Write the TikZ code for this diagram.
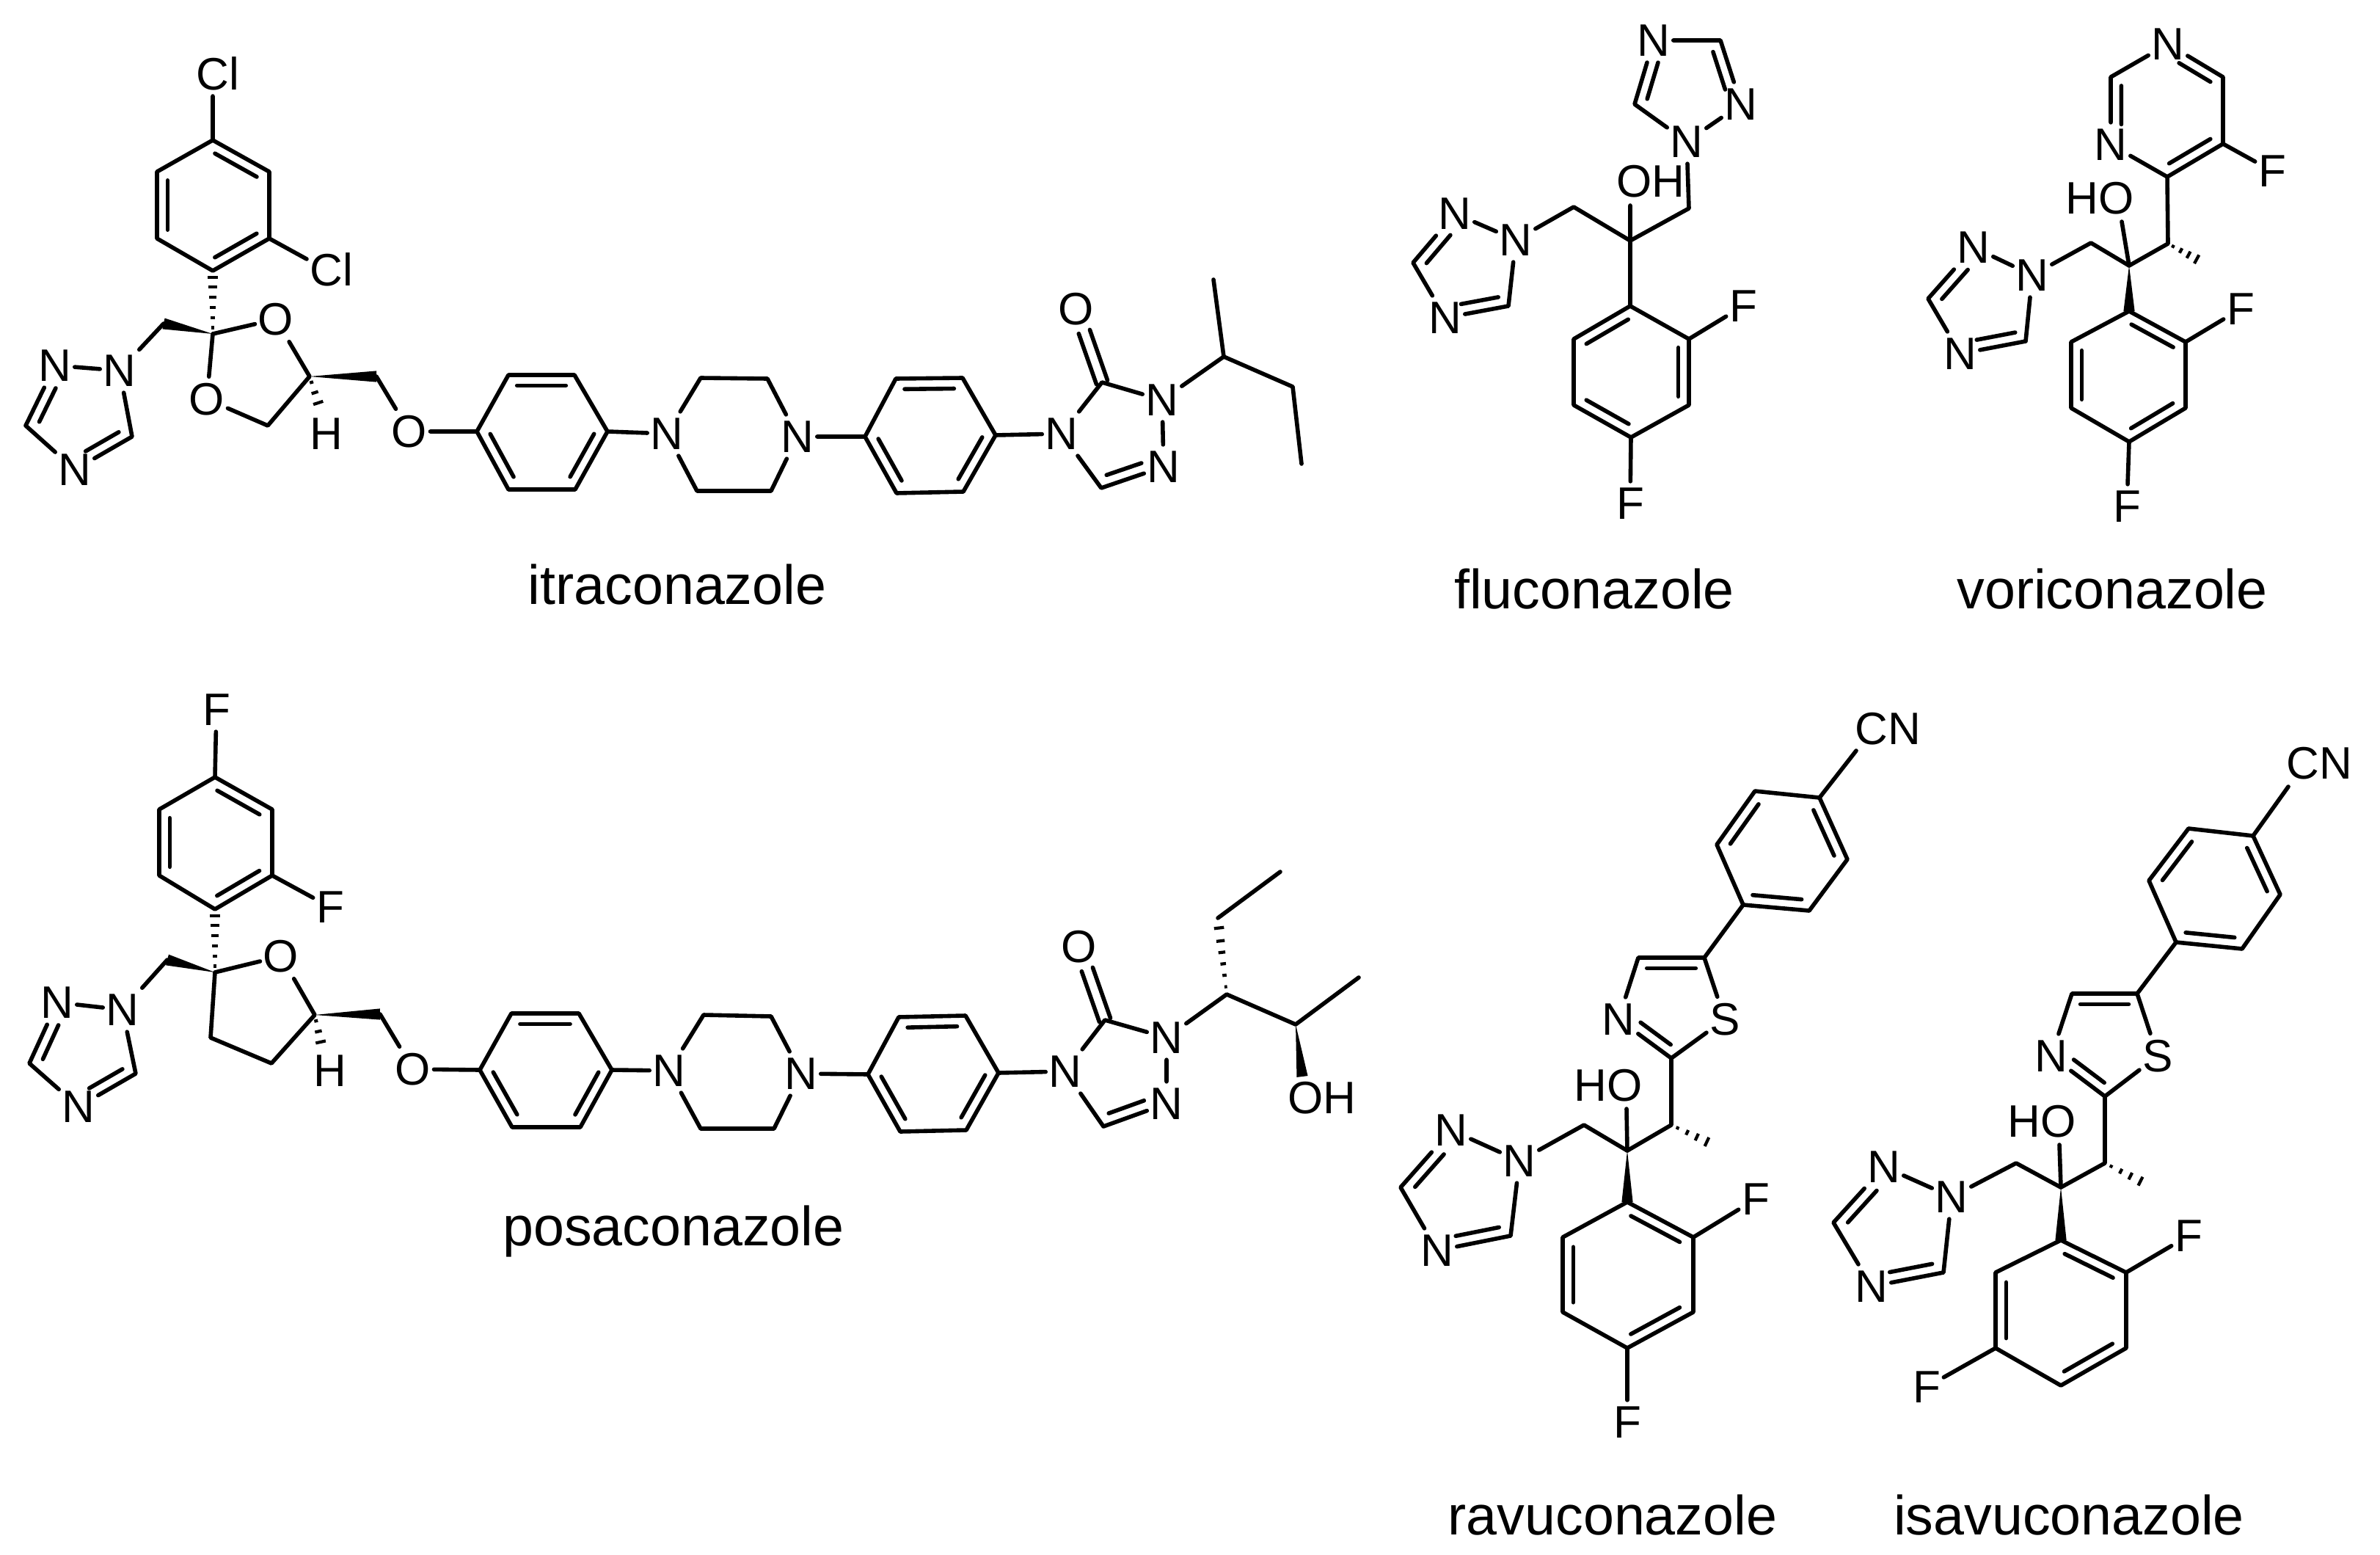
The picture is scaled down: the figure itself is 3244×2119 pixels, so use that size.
\documentclass[tikz,border=0pt]{standalone}
\usepackage{fontspec}
\setmainfont{Liberation Sans}
\usetikzlibrary{calc}
\tikzset{
  bond/.style={line width=1.4pt,line cap=round,line join=round},
  hashmark/.style={line width=1.05pt},
  atom/.style={rectangle,inner xsep=.9pt,inner ysep=2pt,font=\fontsize{15.5}{18}\selectfont},
  grp/.style={inner sep=0pt,font=\fontsize{15.5}{18}\selectfont},
  drug/.style={anchor=base,inner sep=0pt,font=\fontsize{18.85}{22}\selectfont}
}
\newcommand{\innerb}[4]{\draw[bond] ($(#1)!#3!(#2)!3.6pt!-90:(#2)$) -- ($(#2)!#4!(#1)!3.6pt!90:(#1)$);}
\newcommand{\ringd}[2]{\innerb{#1}{#2}{.13}{.13}}
\newcommand{\carbonyl}[2]{%
  \draw[bond] ($(#1)!2pt!90:(#2)$) -- ($(#1)!.69!(#2)!2pt!90:(#2)$);
  \draw[bond] ($(#1)!2pt!-90:(#2)$) -- ($(#1)!.69!(#2)!2pt!-90:(#2)$);}
\newcommand{\wdg}[2]{\fill ($(#1)$) -- ($(#2)!1.9pt!90:(#1)$) -- ($(#2)!1.9pt!-90:(#1)$) -- cycle;}
\newcommand{\hsh}[3]{\foreach \hf in {#3}{\pgfmathsetmacro\hw{0.3+1.6*\hf}%
  \draw[hashmark] ($(#1)!\hf!(#2)!\hw pt!90:(#2)$) -- ($(#1)!\hf!(#2)!\hw pt!-90:(#2)$);}}
\begin{document}
\begin{tikzpicture}[x=.25pt,y=-.25pt]
\useasboundingbox (0,0) rectangle (3244,2119);
% ---------- itraconazole
\node[grp] (iclt) at (297,100) {Cl};
\coordinate (iclte) at (290,131);
\node[grp] (iclr) at (452,367) {Cl};
\coordinate (iclre) at (418,353);
\coordinate (ia1) at (290,191); \coordinate (ia2) at (367,234); \coordinate (ia3) at (367,325);
\coordinate (ia4) at (290,369); \coordinate (ia5) at (214,325); \coordinate (ia6) at (214,234);
\coordinate (iq) at (290,455); \coordinate (ich) at (223,441);
\node[atom] (itn1) at (163,505) {N}; \node[atom] (itn2) at (75,498) {N};
\coordinate (itc3) at (35,580); \node[atom] (itn4) at (102,640) {N}; \coordinate (itc5) at (180,595);
\node[atom] (io1) at (376,435) {O}; \node[atom] (io2) at (282,544) {O};
\coordinate (ic4) at (422,513); \coordinate (ic5) at (365,580); \coordinate (ich2) at (513,513);
\node[atom] (io3) at (558,588) {O}; \node[grp] (ih) at (445,591) {H}; \coordinate (ihe) at (435,553);
\coordinate (ib1) at (650,588); \coordinate (ib2) at (693,511); \coordinate (ib3) at (783,511);
\coordinate (ib4) at (828,588); \coordinate (ib5) at (784,667); \coordinate (ib6) at (693,667);
\node[atom] (ipn1) at (909,591) {N}; \coordinate (ip2) at (955,515); \coordinate (ip3) at (1046,516);
\node[atom] (ipn2) at (1087,595) {N}; \coordinate (ip5) at (1051,669); \coordinate (ip6) at (950,669);
\coordinate (id1) at (1179,595); \coordinate (id2) at (1221,516); \coordinate (id3) at (1312,515);
\coordinate (id4) at (1357,593); \coordinate (id5) at (1313,670); \coordinate (id6) at (1222,672);
\node[atom] (ian4) at (1447,591) {N}; \coordinate (iac) at (1502,521); \node[atom] (iao) at (1467,421) {O};
\node[atom] (ian1) at (1584,545) {N}; \node[atom] (ian2) at (1586,636) {N}; \coordinate (iach) at (1501,665);
\coordinate (is1) at (1668,486); \coordinate (is2) at (1654,381); \coordinate (is3) at (1762,527); \coordinate (is4) at (1774,632);
\draw[bond] (iclte) -- (ia1) -- (ia2) -- (ia3) -- (ia4) -- (ia5) -- (ia6) -- (ia1);
\draw[bond] (ia3) -- (iclre);
\ringd{ia1}{ia2} \ringd{ia3}{ia4} \ringd{ia5}{ia6}
\hsh{iq}{ia4}{.1,.26,.42,.58,.74,.9}
\wdg{iq}{ich} \wdg{ic4}{ich2}
\draw[bond] (ich) -- (itn1) -- (itc5) -- (itn4) -- (itc3) -- (itn2) -- (itn1);
\innerb{itc5}{itn4}{.14}{.28} \innerb{itc3}{itn2}{.14}{.3}
\draw[bond] (iq) -- (io1) -- (ic4) -- (ic5) -- (io2) -- (iq);
\hsh{ic4}{ihe}{.2,.55,.9}
\draw[bond] (ich2) -- (io3) -- (ib1) -- (ib2) -- (ib3) -- (ib4) -- (ib5) -- (ib6) -- (ib1);
\ringd{ib2}{ib3} \ringd{ib4}{ib5} \ringd{ib6}{ib1}
\draw[bond] (ib4) -- (ipn1) -- (ip2) -- (ip3) -- (ipn2) -- (ip5) -- (ip6) -- (ipn1);
\draw[bond] (ipn2) -- (id1) -- (id2) -- (id3) -- (id4) -- (id5) -- (id6) -- (id1);
\ringd{id2}{id3} \ringd{id4}{id5} \ringd{id6}{id1}
\draw[bond] (id4) -- (ian4) -- (iac) -- (ian1) -- (ian2) -- (iach) -- (ian4);
\carbonyl{iac}{iao}
\innerb{ian2}{iach}{.3}{.14}
\draw[bond] (ian1) -- (is1) -- (is2); \draw[bond] (is1) -- (is3) -- (is4);
\node[drug] (lblitra) at (923,823) {itraconazole};
% ---------- fluconazole
\node[atom] (fan) at (2254,55) {N}; \coordinate (fac) at (2345,55); \node[atom] (fan2) at (2373,142) {N};
\node[atom] (fan1) at (2299,193) {N}; \coordinate (fac2) at (2228,142);
\coordinate (fch2r) at (2302,284); \coordinate (fq) at (2222,328);
\node[grp] (foh) at (2250,247) {OH}; \coordinate (fohe) at (2222,280);
\coordinate (fch2l) at (2145,282); \node[atom] (fbn1) at (2066,327) {N}; \node[atom] (fbn2) at (1983,291) {N};
\coordinate (fbc3) at (1926,358); \node[atom] (fbn4) at (1970,433) {N}; \coordinate (fbc5) at (2056,417);
\coordinate (fr1) at (2222,417); \coordinate (fr2) at (2302,462); \coordinate (fr3) at (2302,552);
\coordinate (fr4) at (2223,596); \coordinate (fr5) at (2145,552); \coordinate (fr6) at (2145,462);
\node[atom] (ffr) at (2376,417) {F}; \node[atom] (ffb) at (2222,686) {F};
\draw[bond] (fan) -- (fac) -- (fan2) -- (fan1) -- (fac2) -- (fan);
\innerb{fac}{fan2}{.13}{.28} \innerb{fac2}{fan}{.13}{.3}
\draw[bond] (fan1) -- (fch2r) -- (fq) -- (fch2l) -- (fbn1) -- (fbc5) -- (fbn4) -- (fbc3) -- (fbn2) -- (fbn1);
\innerb{fbc5}{fbn4}{.13}{.28} \innerb{fbc3}{fbn2}{.13}{.3}
\draw[bond] (fohe) -- (fq) -- (fr1) -- (fr2) -- (fr3) -- (fr4) -- (fr5) -- (fr6) -- (fr1);
\ringd{fr6}{fr1} \ringd{fr2}{fr3} \ringd{fr4}{fr5}
\draw[bond] (fr2) -- (ffr); \draw[bond] (fr4) -- (ffb);
\node[drug] (lblfluc) at (2173,829) {fluconazole};
% ---------- voriconazole
\node[atom] (vpn) at (2955,60) {N}; \coordinate (vp2) at (3030,105); \coordinate (vp3) at (3030,196);
\coordinate (vp4) at (2954,241); \node[atom] (vpn5) at (2877,197) {N}; \coordinate (vp6) at (2877,105);
\node[atom] (vfp) at (3097,233) {F}; \node[grp] (vho) at (2862,270) {HO}; \coordinate (vhoe) at (2892,302);
\coordinate (vq) at (2902,362); \coordinate (vch) at (2955,332); \coordinate (vme) at (3001,357); \coordinate (vch2) at (2850,331);
\node[atom] (vbn1) at (2770,375) {N}; \node[atom] (vbn2) at (2690,337) {N}; \coordinate (vbc3) at (2628,407);
\node[atom] (vbn4) at (2672,482) {N}; \coordinate (vbc5) at (2761,465);
\coordinate (vr1) at (2902,424); \coordinate (vr2) at (2979,466); \coordinate (vr3) at (2979,556);
\coordinate (vr4) at (2902,602); \coordinate (vr5) at (2823,556); \coordinate (vr6) at (2823,466);
\node[atom] (vfr) at (3054,421) {F}; \node[atom] (vfb) at (2899,690) {F};
\draw[bond] (vpn) -- (vp2) -- (vp3) -- (vp4) -- (vpn5) -- (vp6) -- (vpn);
\innerb{vpn}{vp2}{.3}{.13} \ringd{vp3}{vp4} \innerb{vpn5}{vp6}{.3}{.13}
\draw[bond] (vp3) -- (vfp);
\draw[bond] (vp4) -- (vch) -- (vq) -- (vch2) -- (vbn1) -- (vbc5) -- (vbn4) -- (vbc3) -- (vbn2) -- (vbn1);
\innerb{vbc5}{vbn4}{.13}{.28} \innerb{vbc3}{vbn2}{.13}{.3}
\draw[bond] (vq) -- (vhoe);
\hsh{vch}{vme}{.15,.38,.61,.85}
\wdg{vq}{vr1}
\draw[bond] (vr1) -- (vr2) -- (vr3) -- (vr4) -- (vr5) -- (vr6) -- (vr1);
\ringd{vr1}{vr2} \ringd{vr3}{vr4} \ringd{vr5}{vr6}
\draw[bond] (vr2) -- (vfr); \draw[bond] (vr4) -- (vfb);
\node[drug] (lblvori) at (2879,829) {voriconazole};
% ---------- posaconazole
\node[atom] (pft) at (295,967) {F}; \node[atom] (pfr) at (450,1236) {F};
\coordinate (pa1) at (293,1059); \coordinate (pa2) at (371,1103); \coordinate (pa3) at (371,1193);
\coordinate (pa4) at (293,1239); \coordinate (pa5) at (217,1193); \coordinate (pa6) at (217,1103);
\coordinate (pq) at (293,1325); \coordinate (pch) at (228,1308);
\node[atom] (ptn1) at (167,1376) {N}; \node[atom] (ptn2) at (78,1366) {N}; \coordinate (ptc3) at (40,1449);
\node[atom] (ptn4) at (107,1508) {N}; \coordinate (ptc5) at (185,1463);
\node[atom] (po1) at (383,1303) {O}; \coordinate (pc4) at (429,1383); \coordinate (pc5) at (370,1449); \coordinate (pc6) at (287,1414);
\coordinate (pch2) at (518,1382); \node[atom] (po3) at (563,1457) {O}; \node[grp] (ph) at (450,1459) {H}; \coordinate (phe) at (438,1424);
\coordinate (pb1) at (654,1458); \coordinate (pb2) at (697,1381); \coordinate (pb3) at (789,1381);
\coordinate (pb4) at (834,1458); \coordinate (pb5) at (791,1536); \coordinate (pb6) at (698,1536);
\node[atom] (ppn1) at (912,1459) {N}; \coordinate (pp2) at (959,1383); \coordinate (pp3) at (1051,1385);
\node[atom] (ppn2) at (1092,1463) {N}; \coordinate (pp5) at (1055,1538); \coordinate (pp6) at (955,1538);
\coordinate (pd1) at (1183,1464); \coordinate (pd2) at (1225,1386); \coordinate (pd3) at (1316,1384);
\coordinate (pd4) at (1361,1462); \coordinate (pd5) at (1317,1540); \coordinate (pd6) at (1227,1542);
\node[atom] (pan4) at (1452,1460) {N}; \coordinate (pac) at (1506,1390); \node[atom] (pao) at (1471,1290) {O};
\node[atom] (pan1) at (1590,1414) {N}; \node[atom] (pan2) at (1590,1504) {N}; \coordinate (pach) at (1504,1535);
\coordinate (ps1) at (1672,1355); \coordinate (ps2) at (1660,1251); \coordinate (ps3) at (1745,1188);
\coordinate (ps4) at (1766,1396); \coordinate (ps5) at (1852,1332); \coordinate (ps6) at (1775,1467);
\node[grp] (poh) at (1802,1496) {OH};
\draw[bond] (pft) -- (pa1) -- (pa2) -- (pa3) -- (pa4) -- (pa5) -- (pa6) -- (pa1);
\draw[bond] (pa3) -- (pfr);
\ringd{pa1}{pa2} \ringd{pa3}{pa4} \ringd{pa5}{pa6}
\hsh{pq}{pa4}{.1,.26,.42,.58,.74,.9}
\wdg{pq}{pch} \wdg{pc4}{pch2}
\draw[bond] (pch) -- (ptn1) -- (ptc5) -- (ptn4) -- (ptc3) -- (ptn2) -- (ptn1);
\innerb{ptc5}{ptn4}{.14}{.28} \innerb{ptc3}{ptn2}{.14}{.3}
\draw[bond] (pq) -- (po1) -- (pc4) -- (pc5) -- (pc6) -- (pq);
\hsh{pc4}{phe}{.2,.55,.9}
\draw[bond] (pch2) -- (po3) -- (pb1) -- (pb2) -- (pb3) -- (pb4) -- (pb5) -- (pb6) -- (pb1);
\ringd{pb2}{pb3} \ringd{pb4}{pb5} \ringd{pb6}{pb1}
\draw[bond] (pb4) -- (ppn1) -- (pp2) -- (pp3) -- (ppn2) -- (pp5) -- (pp6) -- (ppn1);
\draw[bond] (ppn2) -- (pd1) -- (pd2) -- (pd3) -- (pd4) -- (pd5) -- (pd6) -- (pd1);
\ringd{pd2}{pd3} \ringd{pd4}{pd5} \ringd{pd6}{pd1}
\draw[bond] (pd4) -- (pan4) -- (pac) -- (pan1) -- (pan2) -- (pach) -- (pan4);
\carbonyl{pac}{pao}
\innerb{pan2}{pach}{.3}{.14}
\draw[bond] (pan1) -- (ps1) -- (ps4) -- (ps5);
\draw[bond] (ps2) -- (ps3);
\hsh{ps1}{ps2}{.1,.25,.4,.55,.7,.87}
\wdg{ps4}{ps6}
\node[drug] (lblposa) at (918,1697) {posaconazole};
% ---------- ravuconazole
\node[grp] (rcn) at (2573,993) {CN}; \coordinate (rcne) at (2530,1023);
\coordinate (ra1) at (2480,1087); \coordinate (ra2) at (2392,1078); \coordinate (ra3) at (2340,1151);
\coordinate (ra4) at (2376,1233); \coordinate (ra5) at (2466,1241); \coordinate (ra6) at (2518,1171);
\coordinate (rt1) at (2323,1305); \coordinate (rt2) at (2233,1305); \node[atom] (rtn) at (2206,1389) {N};
\coordinate (rt4) at (2278,1442); \node[atom] (rts) at (2351,1389) {S};
\coordinate (rch) at (2278,1533); \coordinate (rme) at (2335,1560); \coordinate (rq) at (2218,1568);
\node[grp] (rho) at (2192,1479) {HO}; \coordinate (rhoe) at (2217,1511); \coordinate (rch2) at (2159,1533);
\node[atom] (rbn1) at (2071,1582) {N}; \node[atom] (rbn2) at (1978,1540) {N}; \coordinate (rbc3) at (1909,1618);
\node[atom] (rbn4) at (1959,1704) {N}; \coordinate (rbc5) at (2059,1684);
\coordinate (rr1) at (2218,1638); \coordinate (rr2) at (2308,1686); \coordinate (rr3) at (2308,1788);
\coordinate (rr4) at (2218,1837); \coordinate (rr5) at (2130,1788); \coordinate (rr6) at (2130,1686);
\node[atom] (rfr) at (2393,1634) {F}; \node[atom] (rfb) at (2218,1938) {F};
\draw[bond] (rcne) -- (ra1) -- (ra6) -- (ra5) -- (ra4) -- (ra3) -- (ra2) -- (ra1);
\ringd{ra1}{ra6} \ringd{ra5}{ra4} \ringd{ra3}{ra2}
\draw[bond] (ra4) -- (rt1) -- (rts) -- (rt4) -- (rtn) -- (rt2) -- (rt1);
\ringd{rt2}{rt1} \innerb{rt4}{rtn}{.13}{.3}
\draw[bond] (rt4) -- (rch) -- (rq) -- (rch2) -- (rbn1) -- (rbc5) -- (rbn4) -- (rbc3) -- (rbn2) -- (rbn1);
\innerb{rbc5}{rbn4}{.13}{.28} \innerb{rbc3}{rbn2}{.13}{.3}
\draw[bond] (rq) -- (rhoe);
\hsh{rch}{rme}{.15,.38,.61,.85}
\wdg{rq}{rr1}
\draw[bond] (rr1) -- (rr2) -- (rr3) -- (rr4) -- (rr5) -- (rr6) -- (rr1);
\ringd{rr1}{rr2} \ringd{rr3}{rr4} \ringd{rr5}{rr6}
\draw[bond] (rr2) -- (rfr); \draw[bond] (rr4) -- (rfb);
\node[drug] (lblravu) at (2198,2091) {ravuconazole};
% ---------- isavuconazole
\node[grp] (scn) at (3161,1040) {CN}; \coordinate (scne) at (3119,1072);
\coordinate (sa1) at (3071,1139); \coordinate (sa2) at (2983,1129); \coordinate (sa3) at (2929,1200);
\coordinate (sa4) at (2966,1284); \coordinate (sa5) at (3056,1293); \coordinate (sa6) at (3108,1219);
\coordinate (st1) at (2913,1354); \coordinate (st2) at (2824,1354); \node[atom] (stn) at (2796,1439) {N};
\coordinate (st4) at (2869,1494); \node[atom] (sts) at (2941,1439) {S};
\coordinate (sch) at (2869,1585); \coordinate (sme) at (2926,1614); \coordinate (sq) at (2809,1618);
\node[grp] (sho) at (2783,1528) {HO}; \coordinate (shoe) at (2807,1560); \coordinate (sch2) at (2748,1585);
\node[atom] (sbn1) at (2660,1631) {N}; \node[atom] (sbn2) at (2568,1590) {N}; \coordinate (sbc3) at (2499,1666);
\node[atom] (sbn4) at (2551,1753) {N}; \coordinate (sbc5) at (2649,1734);
\coordinate (sr1) at (2809,1690); \coordinate (sr2) at (2898,1734); \coordinate (sr3) at (2898,1837);
\coordinate (sr4) at (2809,1888); \coordinate (sr5) at (2720,1837); \coordinate (sr6) at (2720,1734);
\node[atom] (sfr) at (2983,1684) {F}; \node[atom] (sfl) at (2626,1890) {F};
\draw[bond] (scne) -- (sa1) -- (sa6) -- (sa5) -- (sa4) -- (sa3) -- (sa2) -- (sa1);
\ringd{sa1}{sa6} \ringd{sa5}{sa4} \ringd{sa3}{sa2}
\draw[bond] (sa4) -- (st1) -- (sts) -- (st4) -- (stn) -- (st2) -- (st1);
\ringd{st2}{st1} \innerb{st4}{stn}{.13}{.3}
\draw[bond] (st4) -- (sch) -- (sq) -- (sch2) -- (sbn1) -- (sbc5) -- (sbn4) -- (sbc3) -- (sbn2) -- (sbn1);
\innerb{sbc5}{sbn4}{.13}{.28} \innerb{sbc3}{sbn2}{.13}{.3}
\draw[bond] (sq) -- (shoe);
\hsh{sch}{sme}{.15,.38,.61,.85}
\wdg{sq}{sr1}
\draw[bond] (sr1) -- (sr2) -- (sr3) -- (sr4) -- (sr5) -- (sr6) -- (sr1);
\ringd{sr1}{sr2} \ringd{sr3}{sr4} \ringd{sr5}{sr6}
\draw[bond] (sr2) -- (sfr); \draw[bond] (sr5) -- (sfl);
\node[drug] (lblisav) at (2820,2091) {isavuconazole};
\end{tikzpicture}
\end{document}
